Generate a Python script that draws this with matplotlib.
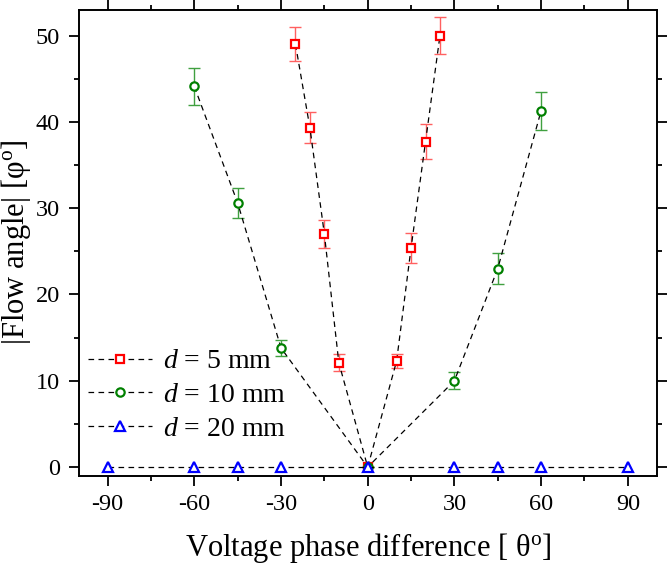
import matplotlib
matplotlib.use("Agg")
import matplotlib.pyplot as plt
from matplotlib.ticker import MultipleLocator

plt.rcParams['font.family'] = ['Liberation Serif', 'DejaVu Serif']
plt.rcParams['mathtext.fontset'] = 'custom'
plt.rcParams['mathtext.rm'] = 'Liberation Serif'
plt.rcParams['mathtext.it'] = 'Liberation Serif:italic'

# d = 5 mm
x5 = [-25, -20, -15, -10, 0, 10, 15, 20, 25]
y5 = [49.0, 39.3, 27.0, 12.1, 0, 12.3, 25.4, 37.7, 50.0]
e5 = [2.0, 1.8, 1.6, 1.0, 0, 0.8, 1.7, 2.0, 2.1]
# d = 10 mm
x10 = [-60, -45, -30, 0, 30, 45, 60]
y10 = [44.1, 30.6, 13.8, 0, 10.0, 23.0, 41.3]
e10 = [2.15, 1.75, 0.9, 0, 1.0, 1.8, 2.2]
# d = 20 mm
x20 = [-90, -60, -45, -30, 0, 30, 45, 60, 90]
y20 = [0, 0, 0, 0, 0, 0, 0, 0, 0]

labels = ['$d$ = 5 mm', '$d$ = 10 mm', '$d$ = 20 mm']
xticks = [-90, -60, -30, 0, 30, 60, 90]
yticks = [0, 10, 20, 30, 40, 50]

fig = plt.figure(figsize=(6.67, 5.67), dpi=100)
ax = fig.add_axes([0.118, 0.161, 0.8666, 0.822])

dash = (0, (4.5, 3.5))
ax.errorbar(x5, y5, yerr=e5, fmt='none', ecolor='#ff6060', elinewidth=1.0, capsize=4, capthick=1.0, zorder=2)
ax.errorbar(x10, y10, yerr=e10, fmt='none', ecolor='#40a040', elinewidth=1.0, capsize=4, capthick=1.0, zorder=2)

h5, = ax.plot(x5, y5, ls=dash, color='k', lw=0.9, marker='s', ms=5.5, mec='red', mfc='white', mew=1.6, zorder=3, label=labels[0])
h10, = ax.plot(x10, y10, ls=dash, color='k', lw=0.9, marker='o', ms=6, mec='green', mfc='white', mew=1.6, zorder=3, label=labels[1])
h20, = ax.plot(x20, y20, ls=dash, color='k', lw=0.9, marker='^', ms=7, mec='blue', mfc='white', mew=1.6, zorder=4, label=labels[2], clip_on=False)

ax.set_xlim(-100, 100)
ax.set_ylim(-1, 53)
ax.set_xticks(xticks)
ax.set_xticklabels([str(v) for v in xticks])
ax.set_yticks(yticks)
ax.xaxis.set_minor_locator(MultipleLocator(15))
ax.yaxis.set_minor_locator(MultipleLocator(5))
ax.tick_params(which='both', direction='out', top=True, right=True, labelsize=17.5, width=1.3, pad=6.5)
ax.tick_params(which='major', length=7)
ax.tick_params(which='minor', length=3.8)
for s in ax.spines.values():
    s.set_linewidth(1.4)

ax.set_xlabel('Voltage phase difference [ θ$^{\\mathrm{o}}$]', fontsize=22, labelpad=11.5)
ax.set_ylabel('|Flow angle| [φ$^{\\mathrm{o}}$]', fontsize=22, labelpad=2)

ax.legend(handles=[h5, h10, h20], loc='lower left', bbox_to_anchor=(-0.0173, 0.031), frameon=False,
          fontsize=20, numpoints=1, handlelength=2.3, handletextpad=0.4, labelspacing=0.3, borderaxespad=0.3)

fig.savefig('out.png', dpi=100)
